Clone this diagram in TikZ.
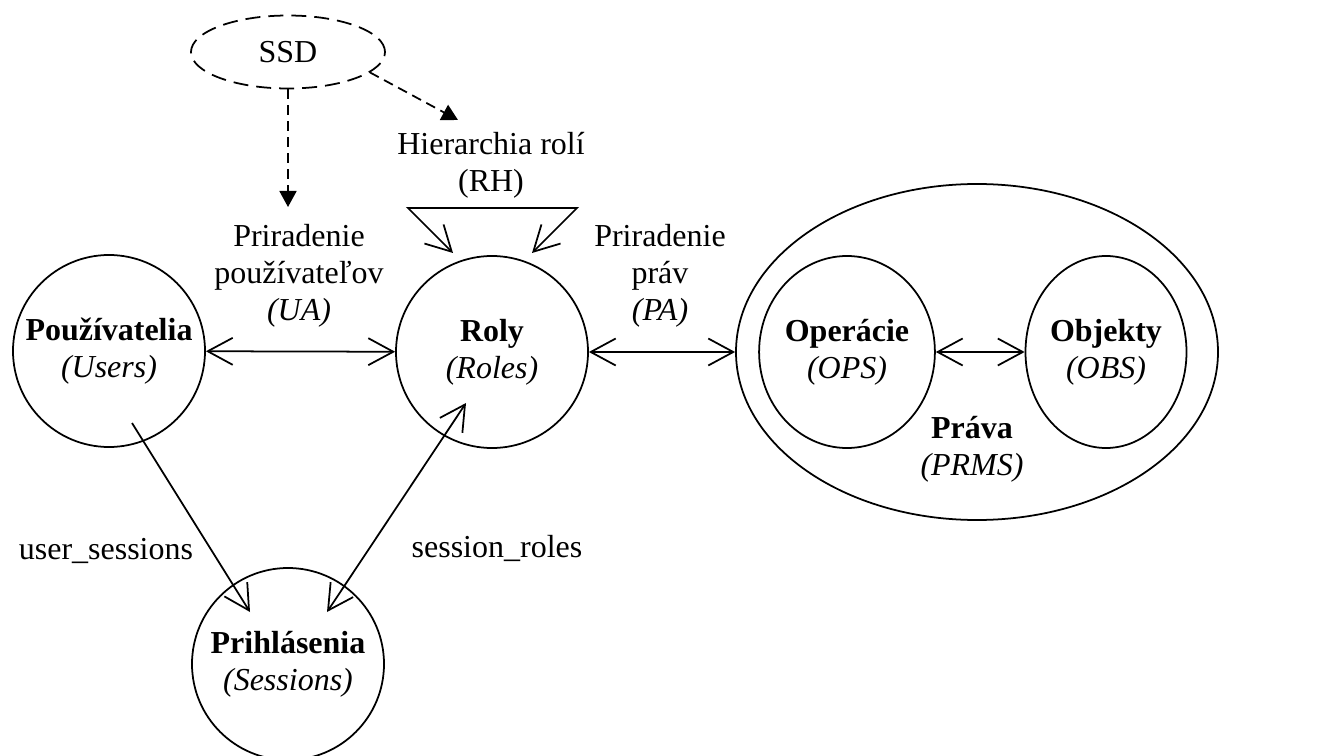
\documentclass[tikz,border=0pt]{standalone}
\usepackage{fontspec}
\setmainfont{Liberation Serif}
\usetikzlibrary{arrows.meta,shapes.geometric}
\tikzset{
    entity/.style={draw, circle, minimum size=3.84cm, align=center, inner sep=0pt},
    subset/.style={draw, ellipse, minimum width=3.22cm, minimum height=3.84cm, align=center, inner sep=0pt},
    tag/.style={align=center, inner sep=0pt},
    ssdline/.style={dash pattern=on 2mm off 1.2mm, -{Triangle[length=3.2mm,width=3.4mm]}}
}
\begin{document}
\begin{tikzpicture}[x=0.2mm, y=-0.2mm, line width=1pt,
    font=\fontsize{18.2}{21}\selectfont,
    >={Straight Barb[length=5mm,width=5.4mm]}]
    \useasboundingbox (0,0) rectangle (1328,756);
    % entity sets
    \node[entity] (users) at (109,351) {\textbf{Používatelia}\\\textit{(Users)}};
    \node[entity] (roly) at (492,352) {\textbf{Roly}\\\textit{(Roles)}};
    \node[entity] (sessions) at (288,664) {\textbf{Prihlásenia}\\\textit{(Sessions)}};
    \node[draw, ellipse, minimum width=9.64cm, minimum height=6.72cm] (prava) at (977,352) {};
    \node[subset] (ops) at (847,352) {\textbf{Operácie}\\\textit{(OPS)}};
    \node[subset] (obs) at (1106,352) {\textbf{Objekty}\\\textit{(OBS)}};
    \node[tag] (pravalbl) at (972,449) {\textbf{Práva}\\\textit{(PRMS)}};
    \node[draw, ellipse, dash pattern=on 3mm off 1.6mm, minimum width=3.88cm, minimum height=1.46cm] (ssd) at (288,52) {SSD};
    % relations
    \draw[<->] (users) -- (roly);
    \draw[<->] (roly) -- (prava);
    \draw[<->] (ops) -- (obs);
    \node[tag] (ua) at (299,276) {Priradenie\\používateľov\\\textit{(UA)}};
    \node[tag] (pa) at (660,276) {Priradenie\\práv\\\textit{(PA)}};
    % role hierarchy
    \coordinate (rh1) at (453,253);
    \coordinate (rh2) at (408,208);
    \coordinate (rh3) at (577,208);
    \coordinate (rh4) at (532,253);
    \draw[<->] (rh1) -- (rh2) -- (rh3) -- (rh4);
    \node[tag] (rh) at (491,165) {Hierarchia rolí\\(RH)};
    % sessions
    \coordinate (us1) at (132,423);
    \coordinate (us2) at (250,612);
    \coordinate (sr1) at (327,612);
    \coordinate (sr2) at (466,403);
    \draw[->] (us1) -- (us2);
    \draw[<->] (sr1) -- (sr2);
    \node (uslbl) at (106,551) {user\_sessions};
    \node (srlbl) at (497,548) {session\_roles};
    % SSD constraints
    \coordinate (ssdua) at (288,207);
    \coordinate (ssdrh) at (458,120);
    \draw[ssdline] (ssd.south) -- (ssdua);
    \draw[ssdline] (ssd.-14) -- (ssdrh);
\end{tikzpicture}
\end{document}
